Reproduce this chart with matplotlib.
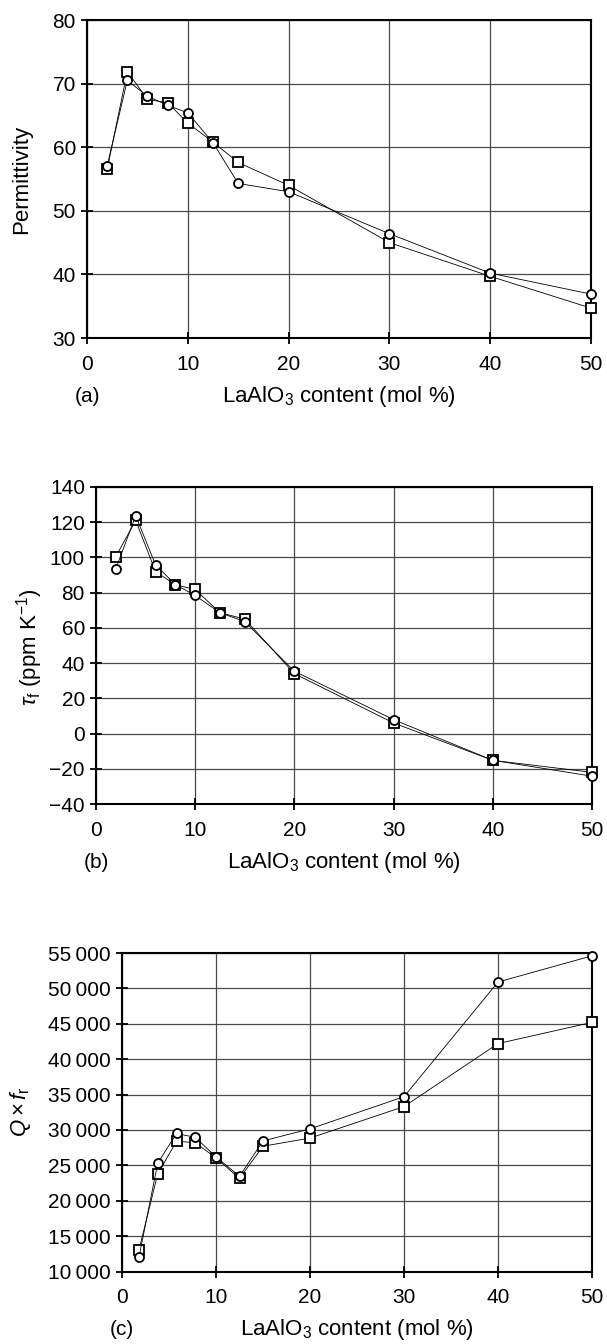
import matplotlib
matplotlib.use("Agg")
import matplotlib.pyplot as plt
from matplotlib.ticker import FuncFormatter, MultipleLocator

plt.rcParams['font.family'] = ['Liberation Sans', 'DejaVu Sans']
plt.rcParams['mathtext.fontset'] = 'custom'
plt.rcParams['mathtext.rm'] = 'Liberation Sans'
plt.rcParams['mathtext.it'] = 'Liberation Sans:italic'
plt.rcParams['mathtext.bf'] = 'Liberation Sans:bold'

# ---- data ----
x_ab = [2, 4, 6, 8, 10, 12.5, 15, 20, 30, 40, 50]
x_c = [1.8, 3.8, 5.8, 7.8, 10, 12.5, 15, 20, 30, 40, 50]

perm_sq = [56.5, 71.9, 67.5, 67.0, 63.8, 60.8, 57.6, 54.0, 45.0, 39.7, 34.7]
perm_ci = [57.1, 70.5, 68.0, 66.6, 65.4, 60.7, 54.3, 53.0, 46.4, 40.2, 36.9]

tau_sq = [100.5, 121, 92, 84.5, 81.8, 68.6, 65, 34, 6, -15.2, -22]
tau_ci = [93.6, 123.7, 95.8, 84.6, 78.4, 68.6, 63.6, 35.4, 7.9, -15.2, -24.2]

qf_sq = [13000, 23800, 28400, 28200, 26050, 23150, 27700, 28850, 33300, 42200, 45200]
qf_ci = [12000, 25300, 29500, 28950, 26200, 23450, 28450, 30150, 34700, 50900, 54600]

xticks = [0, 10, 20, 30, 40, 50]

W, H = 607, 1344
fig = plt.figure(figsize=(W / 100, H / 100), dpi=100)


def px_axes(l, t, r, b):
    return fig.add_axes([l / W, 1 - b / H, (r - l) / W, (b - t) / H])


def style(ax, ylim, ystep, fmt=None):
    ax.set_xlim(0, 50)
    ax.set_ylim(*ylim)
    ax.set_xticks(xticks)
    ax.yaxis.set_major_locator(MultipleLocator(ystep))
    if fmt:
        ax.yaxis.set_major_formatter(FuncFormatter(fmt))
    ax.grid(True, color='#4a4a4a', linewidth=0.9)
    ax.set_axisbelow(True)
    for s in ax.spines.values():
        s.set_linewidth(1.5)
        s.set_color('black')
    ax.tick_params(axis='both', direction='inout', length=8, width=1.3,
                   labelsize=15, colors='black')
    ax.tick_params(axis='x', pad=8)
    ax.tick_params(axis='y', pad=4)


def plot_series(ax, x, sq, ci):
    ax.plot(x, sq, color='black', linewidth=0.6, marker='s', markersize=6.5,
            markerfacecolor='white', markeredgecolor='black', markeredgewidth=1.3,
            zorder=3, clip_on=False)
    ax.plot(x, ci, color='black', linewidth=0.6, marker='o', markersize=6.5,
            markerfacecolor='white', markeredgecolor='black', markeredgewidth=1.3,
            zorder=4, clip_on=False)


def bottom_labels(ax, letter):
    ax.annotate(letter, xy=(0, 0), xycoords=('data', 'axes fraction'),
                xytext=(0, -42), textcoords='offset points',
                ha='center', va='center', fontsize=15)
    ax.annotate('LaAlO$_3$ content (mol %)', xy=(0.5, 0), xycoords='axes fraction',
                xytext=(0, -42), textcoords='offset points',
                ha='center', va='center', fontsize=16)


# (a)
ax1 = px_axes(87, 20, 591, 338)
plot_series(ax1, x_ab, perm_sq, perm_ci)
style(ax1, (30, 80), 10)
bottom_labels(ax1, '(a)')
fig.text(21.6 / W, 1 - 179 / H, 'Permittivity', rotation=90, ha='center', va='center', fontsize=16)

# (b)
ax2 = px_axes(96, 487, 592, 804)
plot_series(ax2, x_ab, tau_sq, tau_ci)
style(ax2, (-40, 140), 20)
bottom_labels(ax2, '(b)')
fig.text(30 / W, 1 - 647 / H, r'$\tau_{\rm f}$ (ppm K$^{-1}$)', rotation=90,
         ha='center', va='center', fontsize=16)

# (c)
ax3 = px_axes(122, 953, 592, 1271.5)
plot_series(ax3, x_c, qf_sq, qf_ci)


def thousands(v, pos):
    v = int(round(v))
    return f"{v // 1000}\u2009{v % 1000:03d}"


style(ax3, (10000, 55000), 5000, thousands)
bottom_labels(ax3, '(c)')
fig.text(20.4 / W, 1 - 1112 / H, r'$Q \times f_{\rm r}$', rotation=90,
         ha='center', va='center', fontsize=16)

fig.savefig('out.png', dpi=100)
